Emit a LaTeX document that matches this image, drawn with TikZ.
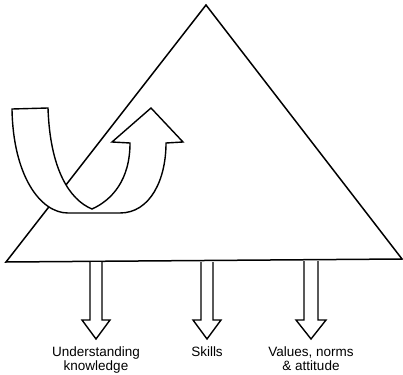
\documentclass[tikz,border=0pt]{standalone}
\usepackage{fontspec}
\setmainfont{Liberation Sans}
\begin{document}
\begin{tikzpicture}[x=1pt,y=-1pt,
  outline/.style={draw=black,line width=1.5pt,line join=miter},
  hollowarrow/.style={draw=black,fill=white,line width=1.4pt,line join=miter},
  lbl/.style={anchor=north,inner sep=0pt,align=center,font=\fontsize{13.5}{13.5}\selectfont}]
\useasboundingbox (0,0) rectangle (403,374);
% triangle
\coordinate (apex) at (206,5);
\coordinate (bl) at (6,262);
\coordinate (br) at (402,259);
\draw[outline] (apex) -- (bl) -- (br) -- cycle;
% U-shaped arrow
\draw[hollowarrow]
  (12,109) .. controls (13,175) and (40,213) .. (68,213)
  -- (120,213)
  .. controls (150,213) and (166,180) .. (166,143)
  -- (183,142) -- (151,108) -- (112,142) -- (130,143)
  .. controls (130,180) and (112,200) .. (92,209)
  .. controls (70,200) and (50,170) .. (48,108)
  -- cycle;
% downward hollow arrows
\draw[hollowarrow] (90,262) -- (90,320) -- (82,320) -- (96,339) -- (110,320) -- (102,320) -- (102,262);
\draw[hollowarrow] (201,262) -- (201,320) -- (193,320) -- (207,339) -- (221,320) -- (213,320) -- (213,262);
\draw[hollowarrow] (304,261) -- (304,320) -- (296,320) -- (311,339) -- (326,320) -- (318,320) -- (318,261);
% labels
\node[lbl] (l1) at (96,347) {Understanding\\knowledge};
\node[lbl] (l2) at (207,347) {Skills};
\node[lbl] (l3) at (311,347) {Values, norms\\\&\ attitude};
\end{tikzpicture}
\end{document}
